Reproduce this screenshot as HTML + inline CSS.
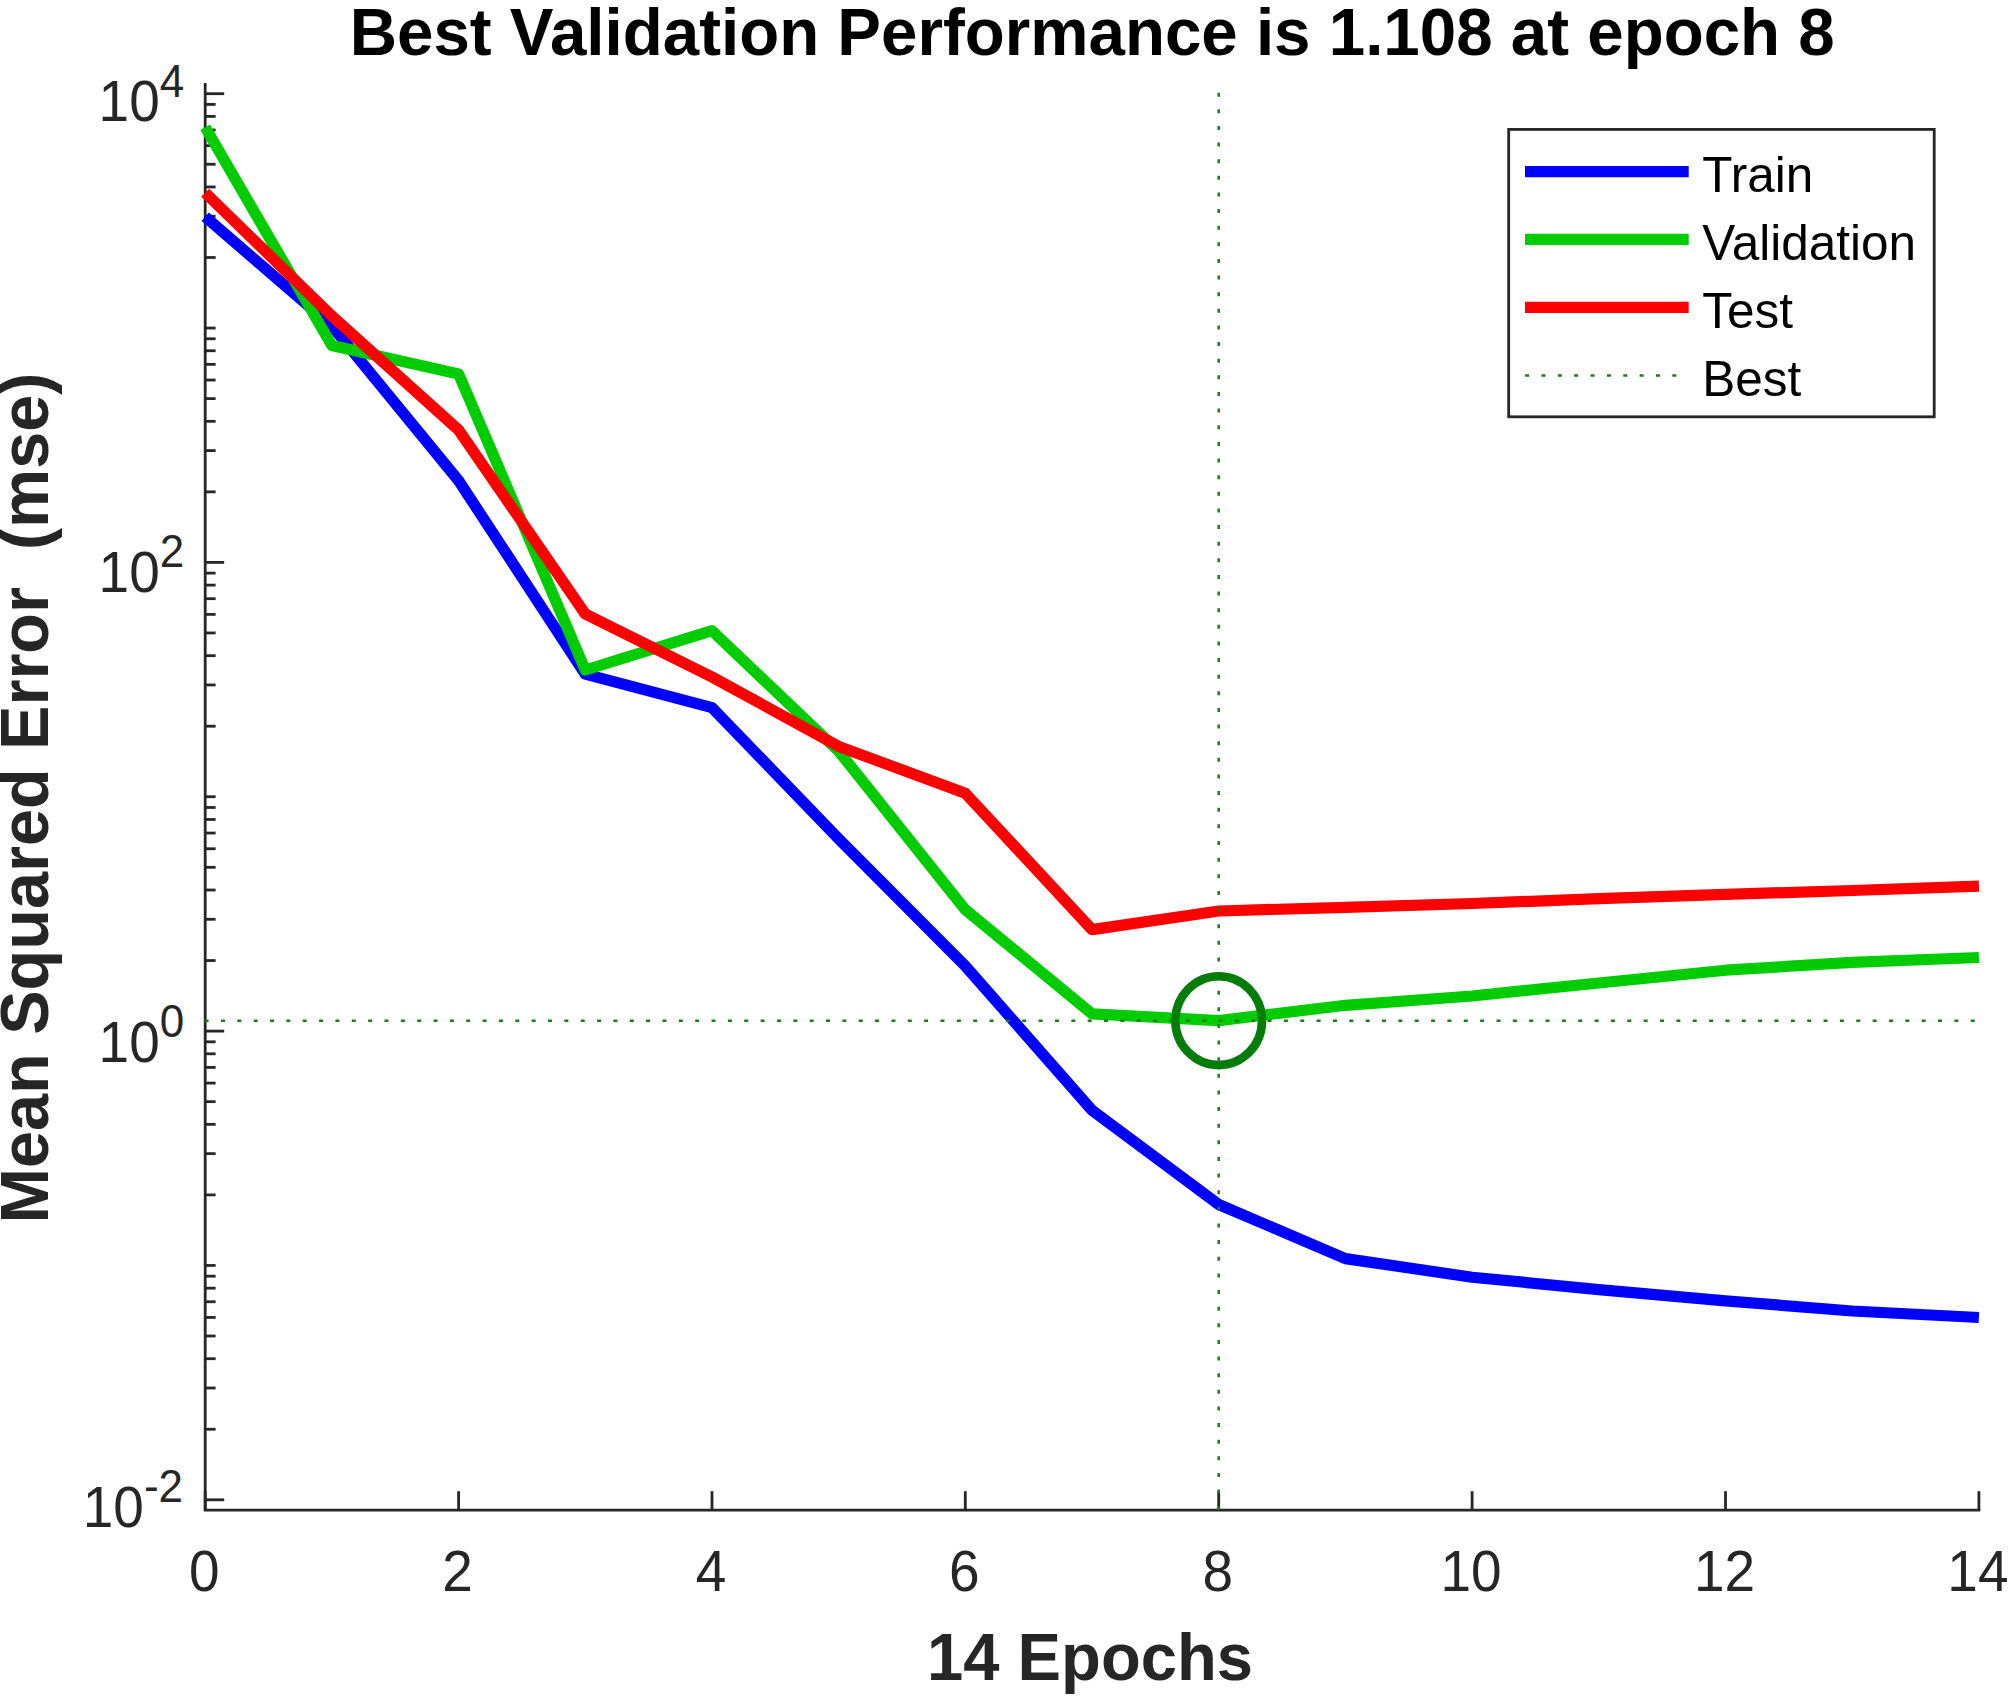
<!DOCTYPE html>
<html lang="en"><head><meta charset="utf-8"><title>Best Validation Performance</title>
<style>html,body{margin:0;padding:0;background:#fff}svg{display:block}text{font-family:"Liberation Sans",sans-serif}</style></head><body>
<svg width="2008" height="1698" viewBox="0 0 2008 1698">
<rect width="2008" height="1698" fill="#fff"/>
<text transform="translate(1092.2,54.8) scale(1,1.025)" font-size="65.5" font-weight="bold" text-anchor="middle" fill="#000">Best Validation Performance is 1.108 at epoch 8</text>
<g stroke="#262626" stroke-width="2.8" fill="none">
<path d="M205.2,83.0 V1510.2 H1980.3" stroke-linejoin="miter"/>
<line x1="205.2" y1="1510.2" x2="205.2" y2="1491.2"/>
<line x1="458.6" y1="1510.2" x2="458.6" y2="1491.2"/>
<line x1="712.0" y1="1510.2" x2="712.0" y2="1491.2"/>
<line x1="965.3" y1="1510.2" x2="965.3" y2="1491.2"/>
<line x1="1218.7" y1="1510.2" x2="1218.7" y2="1491.2"/>
<line x1="1472.1" y1="1510.2" x2="1472.1" y2="1491.2"/>
<line x1="1725.5" y1="1510.2" x2="1725.5" y2="1491.2"/>
<line x1="1978.9" y1="1510.2" x2="1978.9" y2="1491.2"/>
<line x1="205.2" y1="1499.80" x2="224.2" y2="1499.80"/>
<line x1="205.2" y1="1429.25" x2="215.6" y2="1429.25"/>
<line x1="205.2" y1="1387.99" x2="215.6" y2="1387.99"/>
<line x1="205.2" y1="1358.71" x2="215.6" y2="1358.71"/>
<line x1="205.2" y1="1336.00" x2="215.6" y2="1336.00"/>
<line x1="205.2" y1="1317.44" x2="215.6" y2="1317.44"/>
<line x1="205.2" y1="1301.75" x2="215.6" y2="1301.75"/>
<line x1="205.2" y1="1288.16" x2="215.6" y2="1288.16"/>
<line x1="205.2" y1="1276.17" x2="215.6" y2="1276.17"/>
<line x1="205.2" y1="1265.45" x2="215.6" y2="1265.45"/>
<line x1="205.2" y1="1194.90" x2="215.6" y2="1194.90"/>
<line x1="205.2" y1="1153.64" x2="215.6" y2="1153.64"/>
<line x1="205.2" y1="1124.36" x2="215.6" y2="1124.36"/>
<line x1="205.2" y1="1101.65" x2="215.6" y2="1101.65"/>
<line x1="205.2" y1="1083.09" x2="215.6" y2="1083.09"/>
<line x1="205.2" y1="1067.40" x2="215.6" y2="1067.40"/>
<line x1="205.2" y1="1053.81" x2="215.6" y2="1053.81"/>
<line x1="205.2" y1="1041.82" x2="215.6" y2="1041.82"/>
<line x1="205.2" y1="1031.10" x2="224.2" y2="1031.10"/>
<line x1="205.2" y1="960.55" x2="215.6" y2="960.55"/>
<line x1="205.2" y1="919.29" x2="215.6" y2="919.29"/>
<line x1="205.2" y1="890.01" x2="215.6" y2="890.01"/>
<line x1="205.2" y1="867.30" x2="215.6" y2="867.30"/>
<line x1="205.2" y1="848.74" x2="215.6" y2="848.74"/>
<line x1="205.2" y1="833.05" x2="215.6" y2="833.05"/>
<line x1="205.2" y1="819.46" x2="215.6" y2="819.46"/>
<line x1="205.2" y1="807.47" x2="215.6" y2="807.47"/>
<line x1="205.2" y1="796.75" x2="215.6" y2="796.75"/>
<line x1="205.2" y1="726.20" x2="215.6" y2="726.20"/>
<line x1="205.2" y1="684.94" x2="215.6" y2="684.94"/>
<line x1="205.2" y1="655.66" x2="215.6" y2="655.66"/>
<line x1="205.2" y1="632.95" x2="215.6" y2="632.95"/>
<line x1="205.2" y1="614.39" x2="215.6" y2="614.39"/>
<line x1="205.2" y1="598.70" x2="215.6" y2="598.70"/>
<line x1="205.2" y1="585.11" x2="215.6" y2="585.11"/>
<line x1="205.2" y1="573.12" x2="215.6" y2="573.12"/>
<line x1="205.2" y1="562.40" x2="224.2" y2="562.40"/>
<line x1="205.2" y1="491.85" x2="215.6" y2="491.85"/>
<line x1="205.2" y1="450.59" x2="215.6" y2="450.59"/>
<line x1="205.2" y1="421.31" x2="215.6" y2="421.31"/>
<line x1="205.2" y1="398.60" x2="215.6" y2="398.60"/>
<line x1="205.2" y1="380.04" x2="215.6" y2="380.04"/>
<line x1="205.2" y1="364.35" x2="215.6" y2="364.35"/>
<line x1="205.2" y1="350.76" x2="215.6" y2="350.76"/>
<line x1="205.2" y1="338.77" x2="215.6" y2="338.77"/>
<line x1="205.2" y1="328.05" x2="215.6" y2="328.05"/>
<line x1="205.2" y1="257.50" x2="215.6" y2="257.50"/>
<line x1="205.2" y1="216.24" x2="215.6" y2="216.24"/>
<line x1="205.2" y1="186.96" x2="215.6" y2="186.96"/>
<line x1="205.2" y1="164.25" x2="215.6" y2="164.25"/>
<line x1="205.2" y1="145.69" x2="215.6" y2="145.69"/>
<line x1="205.2" y1="130.00" x2="215.6" y2="130.00"/>
<line x1="205.2" y1="116.41" x2="215.6" y2="116.41"/>
<line x1="205.2" y1="104.42" x2="215.6" y2="104.42"/>
<line x1="205.2" y1="93.70" x2="224.2" y2="93.70"/>
</g>
<polyline points="205.2,216.8 331.9,326.0 458.6,480.6 585.3,674.2 712.0,707.6 838.7,838.8 965.3,966.0 1092.0,1110.2 1218.7,1204.5 1345.4,1258.6 1472.1,1277.2 1598.8,1289.6 1725.5,1300.8 1852.2,1311.0 1978.9,1317.5" fill="none" stroke="#0000ff" stroke-width="11.2" stroke-linejoin="round" stroke-linecap="butt"/>
<polyline points="205.2,127.3 331.9,345.5 458.6,374.0 585.3,670.0 712.0,630.7 838.7,751.2 965.3,909.7 1092.0,1013.8 1218.7,1020.6 1345.4,1005.3 1472.1,996.0 1598.8,983.0 1725.5,970.2 1852.2,962.3 1978.9,957.5" fill="none" stroke="#00cc00" stroke-width="11.2" stroke-linejoin="round" stroke-linecap="butt"/>
<polyline points="205.2,192.8 331.9,316.0 458.6,430.0 585.3,614.0 712.0,677.0 838.7,746.4 965.3,793.3 1092.0,929.6 1218.7,911.0 1345.4,907.3 1472.1,903.5 1598.8,898.7 1725.5,894.4 1852.2,890.5 1978.9,886.2" fill="none" stroke="#ff0000" stroke-width="11.2" stroke-linejoin="round" stroke-linecap="butt"/>
<line x1="1218.7" y1="1510.2" x2="1218.7" y2="83.0" stroke="#1f7a1f" stroke-width="2.5" stroke-dasharray="4 12.63"/>
<line x1="204.6" y1="1020.7" x2="1978.9" y2="1020.7" stroke="#1f7a1f" stroke-width="2.5" stroke-dasharray="4 12.353"/>
<ellipse cx="1218.7" cy="1020.7" rx="43.3" ry="44.4" fill="none" stroke="#047d08" stroke-width="8.6"/>
<g font-size="55" fill="#262626" text-anchor="middle">
<text transform="translate(204.2,1591.2) scale(1,1.0405)">0</text>
<text transform="translate(457.6,1591.2) scale(1,1.0405)">2</text>
<text transform="translate(711.0,1591.2) scale(1,1.0405)">4</text>
<text transform="translate(964.3,1591.2) scale(1,1.0405)">6</text>
<text transform="translate(1217.7,1591.2) scale(1,1.0405)">8</text>
<text transform="translate(1471.1,1591.2) scale(1,1.0405)">10</text>
<text transform="translate(1724.5,1591.2) scale(1,1.0405)">12</text>
<text transform="translate(1977.9,1591.2) scale(1,1.0405)">14</text>
</g>
<g font-size="55" fill="#262626" text-anchor="end">
<text transform="translate(184.2,121.3) scale(1,1.0405)">10<tspan font-size="44" dy="-23.74">4</tspan></text>
<text transform="translate(184.2,591.7) scale(1,1.0405)">10<tspan font-size="44" dy="-23.74">2</tspan></text>
<text transform="translate(184.2,1061.7) scale(1,1.0405)">10<tspan font-size="44" dy="-23.74">0</tspan></text>
<text transform="translate(183.0,1527) scale(1,1.0405)">10<tspan font-size="44" dy="-23.74">-2</tspan></text>
</g>
<text transform="translate(1090.0,1679.9) scale(1,1.025)" font-size="65.2" font-weight="bold" text-anchor="middle" fill="#262626">14 Epochs</text>
<text transform="translate(48,798) rotate(-90) scale(1,1.025)" font-size="66.6" font-weight="bold" text-anchor="middle" fill="#262626" xml:space="preserve" style="white-space:pre">Mean Squared Error  (mse)</text>
<rect x="1508.7" y="129.4" width="425.5" height="287.4" fill="#fff" stroke="#262626" stroke-width="2.8"/>
<line x1="1525" y1="171.55" x2="1688.7" y2="171.55" stroke="#0000ff" stroke-width="11.2"/>
<line x1="1525" y1="239.3" x2="1688.7" y2="239.3" stroke="#00cc00" stroke-width="11.2"/>
<line x1="1525" y1="307.3" x2="1688.7" y2="307.3" stroke="#ff0000" stroke-width="11.2"/>
<line x1="1525.1" y1="375.4" x2="1680" y2="375.4" stroke="#1f7a1f" stroke-width="2.5" stroke-dasharray="4 12.36"/>
<g font-size="49.5" fill="#000">
<text transform="translate(1702.3,192.2) scale(1,1.025)">Train</text>
<text transform="translate(1702.3,259.9) scale(1,1.025)">Validation</text>
<text transform="translate(1702.3,327.9) scale(1,1.025)">Test</text>
<text transform="translate(1702.3,396.0) scale(1,1.025)">Best</text>
</g>
</svg></body></html>
